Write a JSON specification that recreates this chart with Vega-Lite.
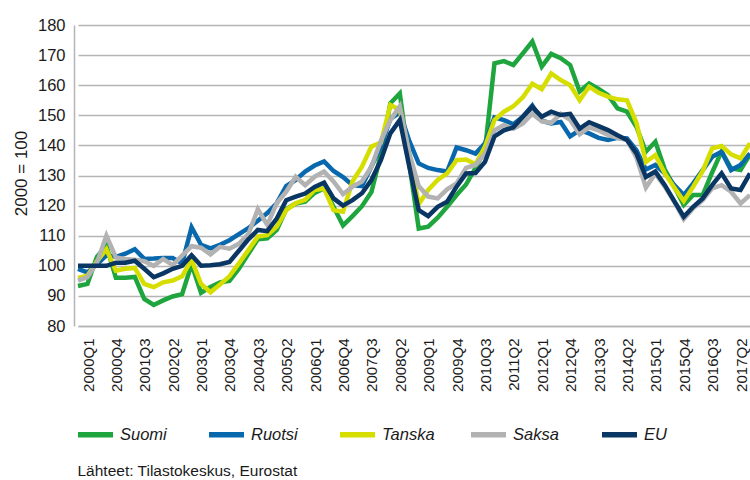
{
  "$schema": "https://vega.github.io/schema/vega-lite/v6.json",
  "width": 676,
  "height": 301,
  "autosize": {"type": "none"},
  "padding": {"left": 74, "top": 25, "right": 0, "bottom": 154},
  "config": {"view": {"stroke": null}, "font": "Liberation Sans, Arial, sans-serif"},
  "data": {"values": [
    {"q":"2000Q1","s":"Suomi","v":93.3},{"q":"2000Q2","s":"Suomi","v":94},{"q":"2000Q3","s":"Suomi","v":103},{"q":"2000Q4","s":"Suomi","v":106.7},
    {"q":"2001Q1","s":"Suomi","v":96},{"q":"2001Q2","s":"Suomi","v":96},{"q":"2001Q3","s":"Suomi","v":96.3},{"q":"2001Q4","s":"Suomi","v":89},
    {"q":"2002Q1","s":"Suomi","v":87},{"q":"2002Q2","s":"Suomi","v":88.5},{"q":"2002Q3","s":"Suomi","v":89.8},{"q":"2002Q4","s":"Suomi","v":90.6},
    {"q":"2003Q1","s":"Suomi","v":100.5},{"q":"2003Q2","s":"Suomi","v":91},{"q":"2003Q3","s":"Suomi","v":93},{"q":"2003Q4","s":"Suomi","v":94.5},
    {"q":"2004Q1","s":"Suomi","v":95},{"q":"2004Q2","s":"Suomi","v":99},{"q":"2004Q3","s":"Suomi","v":104},{"q":"2004Q4","s":"Suomi","v":108.8},
    {"q":"2005Q1","s":"Suomi","v":109.1},{"q":"2005Q2","s":"Suomi","v":111.9},{"q":"2005Q3","s":"Suomi","v":118.8},{"q":"2005Q4","s":"Suomi","v":120.7},
    {"q":"2006Q1","s":"Suomi","v":121.3},{"q":"2006Q2","s":"Suomi","v":124.2},{"q":"2006Q3","s":"Suomi","v":125.7},{"q":"2006Q4","s":"Suomi","v":119.6},
    {"q":"2007Q1","s":"Suomi","v":113.4},{"q":"2007Q2","s":"Suomi","v":116.5},{"q":"2007Q3","s":"Suomi","v":119.8},{"q":"2007Q4","s":"Suomi","v":124.5},
    {"q":"2008Q1","s":"Suomi","v":137},{"q":"2008Q2","s":"Suomi","v":154},{"q":"2008Q3","s":"Suomi","v":157.3},{"q":"2008Q4","s":"Suomi","v":134},
    {"q":"2009Q1","s":"Suomi","v":112.4},{"q":"2009Q2","s":"Suomi","v":113},{"q":"2009Q3","s":"Suomi","v":116},{"q":"2009Q4","s":"Suomi","v":119.6},
    {"q":"2010Q1","s":"Suomi","v":123.5},{"q":"2010Q2","s":"Suomi","v":127},{"q":"2010Q3","s":"Suomi","v":132.5},{"q":"2010Q4","s":"Suomi","v":138.5},
    {"q":"2011Q1","s":"Suomi","v":167.3},{"q":"2011Q2","s":"Suomi","v":168},{"q":"2011Q3","s":"Suomi","v":166.7},{"q":"2011Q4","s":"Suomi","v":170.6},
    {"q":"2012Q1","s":"Suomi","v":174.5},{"q":"2012Q2","s":"Suomi","v":166.2},{"q":"2012Q3","s":"Suomi","v":170.4},{"q":"2012Q4","s":"Suomi","v":169},
    {"q":"2013Q1","s":"Suomi","v":166.7},{"q":"2013Q2","s":"Suomi","v":157.9},{"q":"2013Q3","s":"Suomi","v":160.6},{"q":"2013Q4","s":"Suomi","v":158.8},
    {"q":"2014Q1","s":"Suomi","v":156.7},{"q":"2014Q2","s":"Suomi","v":152.3},{"q":"2014Q3","s":"Suomi","v":151.2},{"q":"2014Q4","s":"Suomi","v":146.2},
    {"q":"2015Q1","s":"Suomi","v":137.9},{"q":"2015Q2","s":"Suomi","v":141.2},{"q":"2015Q3","s":"Suomi","v":132},{"q":"2015Q4","s":"Suomi","v":126.3},
    {"q":"2016Q1","s":"Suomi","v":120.2},{"q":"2016Q2","s":"Suomi","v":123.5},{"q":"2016Q3","s":"Suomi","v":123.5},{"q":"2016Q4","s":"Suomi","v":131},
    {"q":"2017Q1","s":"Suomi","v":138},{"q":"2017Q2","s":"Suomi","v":132.4},{"q":"2017Q3","s":"Suomi","v":131.8},{"q":"2017Q4","s":"Suomi","v":137},

    {"q":"2000Q1","s":"Ruotsi","v":99},{"q":"2000Q2","s":"Ruotsi","v":97.8},{"q":"2000Q3","s":"Ruotsi","v":100.5},{"q":"2000Q4","s":"Ruotsi","v":103.5},
    {"q":"2001Q1","s":"Ruotsi","v":103},{"q":"2001Q2","s":"Ruotsi","v":104},{"q":"2001Q3","s":"Ruotsi","v":105.5},{"q":"2001Q4","s":"Ruotsi","v":102.3},
    {"q":"2002Q1","s":"Ruotsi","v":102.4},{"q":"2002Q2","s":"Ruotsi","v":102.6},{"q":"2002Q3","s":"Ruotsi","v":102.6},{"q":"2002Q4","s":"Ruotsi","v":100.8},
    {"q":"2003Q1","s":"Ruotsi","v":112.8},{"q":"2003Q2","s":"Ruotsi","v":107},{"q":"2003Q3","s":"Ruotsi","v":105.8},{"q":"2003Q4","s":"Ruotsi","v":107},
    {"q":"2004Q1","s":"Ruotsi","v":108.5},{"q":"2004Q2","s":"Ruotsi","v":110.5},{"q":"2004Q3","s":"Ruotsi","v":112.5},{"q":"2004Q4","s":"Ruotsi","v":115},
    {"q":"2005Q1","s":"Ruotsi","v":117.5},{"q":"2005Q2","s":"Ruotsi","v":120.8},{"q":"2005Q3","s":"Ruotsi","v":126.5},{"q":"2005Q4","s":"Ruotsi","v":128.5},
    {"q":"2006Q1","s":"Ruotsi","v":131.3},{"q":"2006Q2","s":"Ruotsi","v":133.3},{"q":"2006Q3","s":"Ruotsi","v":134.7},{"q":"2006Q4","s":"Ruotsi","v":131.5},
    {"q":"2007Q1","s":"Ruotsi","v":129.5},{"q":"2007Q2","s":"Ruotsi","v":126.8},{"q":"2007Q3","s":"Ruotsi","v":126.5},{"q":"2007Q4","s":"Ruotsi","v":133},
    {"q":"2008Q1","s":"Ruotsi","v":139.6},{"q":"2008Q2","s":"Ruotsi","v":148.8},{"q":"2008Q3","s":"Ruotsi","v":151},{"q":"2008Q4","s":"Ruotsi","v":141.5},
    {"q":"2009Q1","s":"Ruotsi","v":134},{"q":"2009Q2","s":"Ruotsi","v":132.5},{"q":"2009Q3","s":"Ruotsi","v":131.8},{"q":"2009Q4","s":"Ruotsi","v":131.3},
    {"q":"2010Q1","s":"Ruotsi","v":139.3},{"q":"2010Q2","s":"Ruotsi","v":138.4},{"q":"2010Q3","s":"Ruotsi","v":137.3},{"q":"2010Q4","s":"Ruotsi","v":140.7},
    {"q":"2011Q1","s":"Ruotsi","v":149.3},{"q":"2011Q2","s":"Ruotsi","v":148.4},{"q":"2011Q3","s":"Ruotsi","v":147},{"q":"2011Q4","s":"Ruotsi","v":149.5},
    {"q":"2012Q1","s":"Ruotsi","v":153.2},{"q":"2012Q2","s":"Ruotsi","v":148.2},{"q":"2012Q3","s":"Ruotsi","v":147.3},{"q":"2012Q4","s":"Ruotsi","v":147.8},
    {"q":"2013Q1","s":"Ruotsi","v":143},{"q":"2013Q2","s":"Ruotsi","v":145.1},{"q":"2013Q3","s":"Ruotsi","v":144},{"q":"2013Q4","s":"Ruotsi","v":142.5},
    {"q":"2014Q1","s":"Ruotsi","v":141.8},{"q":"2014Q2","s":"Ruotsi","v":142.5},{"q":"2014Q3","s":"Ruotsi","v":142.3},{"q":"2014Q4","s":"Ruotsi","v":138.4},
    {"q":"2015Q1","s":"Ruotsi","v":132},{"q":"2015Q2","s":"Ruotsi","v":133.5},{"q":"2015Q3","s":"Ruotsi","v":130.7},{"q":"2015Q4","s":"Ruotsi","v":126.8},
    {"q":"2016Q1","s":"Ruotsi","v":123.5},{"q":"2016Q2","s":"Ruotsi","v":127.4},{"q":"2016Q3","s":"Ruotsi","v":131.8},{"q":"2016Q4","s":"Ruotsi","v":136.2},
    {"q":"2017Q1","s":"Ruotsi","v":137.9},{"q":"2017Q2","s":"Ruotsi","v":131.8},{"q":"2017Q3","s":"Ruotsi","v":133.5},{"q":"2017Q4","s":"Ruotsi","v":137.3},

    {"q":"2000Q1","s":"Tanska","v":96},{"q":"2000Q2","s":"Tanska","v":96.7},{"q":"2000Q3","s":"Tanska","v":101.5},{"q":"2000Q4","s":"Tanska","v":105.5},
    {"q":"2001Q1","s":"Tanska","v":98.4},{"q":"2001Q2","s":"Tanska","v":99},{"q":"2001Q3","s":"Tanska","v":99.3},{"q":"2001Q4","s":"Tanska","v":94},
    {"q":"2002Q1","s":"Tanska","v":92.9},{"q":"2002Q2","s":"Tanska","v":94.5},{"q":"2002Q3","s":"Tanska","v":95.1},{"q":"2002Q4","s":"Tanska","v":96.5},
    {"q":"2003Q1","s":"Tanska","v":102},{"q":"2003Q2","s":"Tanska","v":94},{"q":"2003Q3","s":"Tanska","v":91.2},{"q":"2003Q4","s":"Tanska","v":93.8},
    {"q":"2004Q1","s":"Tanska","v":96.5},{"q":"2004Q2","s":"Tanska","v":100.8},{"q":"2004Q3","s":"Tanska","v":105.2},{"q":"2004Q4","s":"Tanska","v":109.7},
    {"q":"2005Q1","s":"Tanska","v":110.2},{"q":"2005Q2","s":"Tanska","v":113},{"q":"2005Q3","s":"Tanska","v":118.5},{"q":"2005Q4","s":"Tanska","v":120.8},
    {"q":"2006Q1","s":"Tanska","v":121.9},{"q":"2006Q2","s":"Tanska","v":125.2},{"q":"2006Q3","s":"Tanska","v":125.7},{"q":"2006Q4","s":"Tanska","v":118.5},
    {"q":"2007Q1","s":"Tanska","v":118},{"q":"2007Q2","s":"Tanska","v":128},{"q":"2007Q3","s":"Tanska","v":132.9},{"q":"2007Q4","s":"Tanska","v":139.6},
    {"q":"2008Q1","s":"Tanska","v":140.9},{"q":"2008Q2","s":"Tanska","v":153.4},{"q":"2008Q3","s":"Tanska","v":151.8},{"q":"2008Q4","s":"Tanska","v":137},
    {"q":"2009Q1","s":"Tanska","v":120.5},{"q":"2009Q2","s":"Tanska","v":125.2},{"q":"2009Q3","s":"Tanska","v":128.5},{"q":"2009Q4","s":"Tanska","v":130.7},
    {"q":"2010Q1","s":"Tanska","v":135.1},{"q":"2010Q2","s":"Tanska","v":135.3},{"q":"2010Q3","s":"Tanska","v":133.7},{"q":"2010Q4","s":"Tanska","v":139.6},
    {"q":"2011Q1","s":"Tanska","v":148.4},{"q":"2011Q2","s":"Tanska","v":151.2},{"q":"2011Q3","s":"Tanska","v":153},{"q":"2011Q4","s":"Tanska","v":156},
    {"q":"2012Q1","s":"Tanska","v":160.5},{"q":"2012Q2","s":"Tanska","v":158.7},{"q":"2012Q3","s":"Tanska","v":163.9},{"q":"2012Q4","s":"Tanska","v":161.7},
    {"q":"2013Q1","s":"Tanska","v":160},{"q":"2013Q2","s":"Tanska","v":155},{"q":"2013Q3","s":"Tanska","v":159.5},{"q":"2013Q4","s":"Tanska","v":157.5},
    {"q":"2014Q1","s":"Tanska","v":156.2},{"q":"2014Q2","s":"Tanska","v":155.3},{"q":"2014Q3","s":"Tanska","v":155},{"q":"2014Q4","s":"Tanska","v":147.5},
    {"q":"2015Q1","s":"Tanska","v":134.5},{"q":"2015Q2","s":"Tanska","v":136.8},{"q":"2015Q3","s":"Tanska","v":130.7},{"q":"2015Q4","s":"Tanska","v":126},
    {"q":"2016Q1","s":"Tanska","v":121.5},{"q":"2016Q2","s":"Tanska","v":126.3},{"q":"2016Q3","s":"Tanska","v":131.5},{"q":"2016Q4","s":"Tanska","v":139},
    {"q":"2017Q1","s":"Tanska","v":139.8},{"q":"2017Q2","s":"Tanska","v":137},{"q":"2017Q3","s":"Tanska","v":135.7},{"q":"2017Q4","s":"Tanska","v":140.7},

    {"q":"2000Q1","s":"Saksa","v":95.1},{"q":"2000Q2","s":"Saksa","v":96.2},{"q":"2000Q3","s":"Saksa","v":101},{"q":"2000Q4","s":"Saksa","v":110},
    {"q":"2001Q1","s":"Saksa","v":102.8},{"q":"2001Q2","s":"Saksa","v":102.3},{"q":"2001Q3","s":"Saksa","v":102},{"q":"2001Q4","s":"Saksa","v":101.5},
    {"q":"2002Q1","s":"Saksa","v":100},{"q":"2002Q2","s":"Saksa","v":102.3},{"q":"2002Q3","s":"Saksa","v":100.2},{"q":"2002Q4","s":"Saksa","v":103.4},
    {"q":"2003Q1","s":"Saksa","v":106.5},{"q":"2003Q2","s":"Saksa","v":106},{"q":"2003Q3","s":"Saksa","v":103.8},{"q":"2003Q4","s":"Saksa","v":106.3},
    {"q":"2004Q1","s":"Saksa","v":105.7},{"q":"2004Q2","s":"Saksa","v":107.3},{"q":"2004Q3","s":"Saksa","v":110.5},{"q":"2004Q4","s":"Saksa","v":118.8},
    {"q":"2005Q1","s":"Saksa","v":113.6},{"q":"2005Q2","s":"Saksa","v":120.8},{"q":"2005Q3","s":"Saksa","v":124.6},{"q":"2005Q4","s":"Saksa","v":129.6},
    {"q":"2006Q1","s":"Saksa","v":126.8},{"q":"2006Q2","s":"Saksa","v":129.6},{"q":"2006Q3","s":"Saksa","v":131.3},{"q":"2006Q4","s":"Saksa","v":128},
    {"q":"2007Q1","s":"Saksa","v":123.8},{"q":"2007Q2","s":"Saksa","v":126.3},{"q":"2007Q3","s":"Saksa","v":128},{"q":"2007Q4","s":"Saksa","v":132.9},
    {"q":"2008Q1","s":"Saksa","v":141.5},{"q":"2008Q2","s":"Saksa","v":148.4},{"q":"2008Q3","s":"Saksa","v":153},{"q":"2008Q4","s":"Saksa","v":137.4},
    {"q":"2009Q1","s":"Saksa","v":126.5},{"q":"2009Q2","s":"Saksa","v":123},{"q":"2009Q3","s":"Saksa","v":122.4},{"q":"2009Q4","s":"Saksa","v":125.4},
    {"q":"2010Q1","s":"Saksa","v":127.4},{"q":"2010Q2","s":"Saksa","v":132.5},{"q":"2010Q3","s":"Saksa","v":133.5},{"q":"2010Q4","s":"Saksa","v":137.3},
    {"q":"2011Q1","s":"Saksa","v":145},{"q":"2011Q2","s":"Saksa","v":146.8},{"q":"2011Q3","s":"Saksa","v":145.5},{"q":"2011Q4","s":"Saksa","v":147.3},
    {"q":"2012Q1","s":"Saksa","v":150.5},{"q":"2012Q2","s":"Saksa","v":148},{"q":"2012Q3","s":"Saksa","v":147.5},{"q":"2012Q4","s":"Saksa","v":150.5},
    {"q":"2013Q1","s":"Saksa","v":148.5},{"q":"2013Q2","s":"Saksa","v":143.7},{"q":"2013Q3","s":"Saksa","v":146},{"q":"2013Q4","s":"Saksa","v":145},
    {"q":"2014Q1","s":"Saksa","v":143.5},{"q":"2014Q2","s":"Saksa","v":142.5},{"q":"2014Q3","s":"Saksa","v":141.8},{"q":"2014Q4","s":"Saksa","v":136},
    {"q":"2015Q1","s":"Saksa","v":126},{"q":"2015Q2","s":"Saksa","v":130.7},{"q":"2015Q3","s":"Saksa","v":126.3},{"q":"2015Q4","s":"Saksa","v":121.3},
    {"q":"2016Q1","s":"Saksa","v":115.5},{"q":"2016Q2","s":"Saksa","v":119.1},{"q":"2016Q3","s":"Saksa","v":121.8},{"q":"2016Q4","s":"Saksa","v":125.7},
    {"q":"2017Q1","s":"Saksa","v":126.8},{"q":"2017Q2","s":"Saksa","v":124.6},{"q":"2017Q3","s":"Saksa","v":120.7},{"q":"2017Q4","s":"Saksa","v":123.5},

    {"q":"2000Q1","s":"EU","v":100},{"q":"2000Q2","s":"EU","v":100},{"q":"2000Q3","s":"EU","v":100},{"q":"2000Q4","s":"EU","v":100},
    {"q":"2001Q1","s":"EU","v":101},{"q":"2001Q2","s":"EU","v":101},{"q":"2001Q3","s":"EU","v":101.7},{"q":"2001Q4","s":"EU","v":99},
    {"q":"2002Q1","s":"EU","v":96.2},{"q":"2002Q2","s":"EU","v":97.5},{"q":"2002Q3","s":"EU","v":99},{"q":"2002Q4","s":"EU","v":100},
    {"q":"2003Q1","s":"EU","v":103.5},{"q":"2003Q2","s":"EU","v":100},{"q":"2003Q3","s":"EU","v":100.2},{"q":"2003Q4","s":"EU","v":100.5},
    {"q":"2004Q1","s":"EU","v":101.3},{"q":"2004Q2","s":"EU","v":105},{"q":"2004Q3","s":"EU","v":108.8},{"q":"2004Q4","s":"EU","v":111.9},
    {"q":"2005Q1","s":"EU","v":111.5},{"q":"2005Q2","s":"EU","v":115.7},{"q":"2005Q3","s":"EU","v":121.8},{"q":"2005Q4","s":"EU","v":123},
    {"q":"2006Q1","s":"EU","v":124},{"q":"2006Q2","s":"EU","v":126.2},{"q":"2006Q3","s":"EU","v":127.6},{"q":"2006Q4","s":"EU","v":122.4},
    {"q":"2007Q1","s":"EU","v":120},{"q":"2007Q2","s":"EU","v":121.8},{"q":"2007Q3","s":"EU","v":124.1},{"q":"2007Q4","s":"EU","v":128.5},
    {"q":"2008Q1","s":"EU","v":135.1},{"q":"2008Q2","s":"EU","v":144},{"q":"2008Q3","s":"EU","v":148.4},{"q":"2008Q4","s":"EU","v":133},
    {"q":"2009Q1","s":"EU","v":118.5},{"q":"2009Q2","s":"EU","v":116.5},{"q":"2009Q3","s":"EU","v":119.6},{"q":"2009Q4","s":"EU","v":121.3},
    {"q":"2010Q1","s":"EU","v":126.3},{"q":"2010Q2","s":"EU","v":130.7},{"q":"2010Q3","s":"EU","v":130.8},{"q":"2010Q4","s":"EU","v":134.5},
    {"q":"2011Q1","s":"EU","v":143},{"q":"2011Q2","s":"EU","v":145},{"q":"2011Q3","s":"EU","v":146},{"q":"2011Q4","s":"EU","v":149.5},
    {"q":"2012Q1","s":"EU","v":152.8},{"q":"2012Q2","s":"EU","v":149.5},{"q":"2012Q3","s":"EU","v":151.2},{"q":"2012Q4","s":"EU","v":150.1},
    {"q":"2013Q1","s":"EU","v":150.5},{"q":"2013Q2","s":"EU","v":145.6},{"q":"2013Q3","s":"EU","v":147.7},{"q":"2013Q4","s":"EU","v":146.4},
    {"q":"2014Q1","s":"EU","v":145.1},{"q":"2014Q2","s":"EU","v":143.4},{"q":"2014Q3","s":"EU","v":141.8},{"q":"2014Q4","s":"EU","v":137.3},
    {"q":"2015Q1","s":"EU","v":129.5},{"q":"2015Q2","s":"EU","v":131.3},{"q":"2015Q3","s":"EU","v":126.8},{"q":"2015Q4","s":"EU","v":121.5},
    {"q":"2016Q1","s":"EU","v":116.3},{"q":"2016Q2","s":"EU","v":119.6},{"q":"2016Q3","s":"EU","v":122.4},{"q":"2016Q4","s":"EU","v":126.8},
    {"q":"2017Q1","s":"EU","v":130.7},{"q":"2017Q2","s":"EU","v":125.7},{"q":"2017Q3","s":"EU","v":125.2},{"q":"2017Q4","s":"EU","v":130.7}
  ]},
  "mark": {"type": "line", "strokeWidth": 4.5},
  "encoding": {
    "x": {
      "field": "q", "type": "ordinal", "sort": null,
      "scale": {"type": "point", "range": [4, 676], "padding": 0},
      "axis": {
        "values": ["2000Q1","2000Q4","2001Q3","2002Q2","2003Q1","2003Q4","2004Q3","2005Q2","2006Q1","2006Q4","2007Q3","2008Q2","2009Q1","2009Q4","2010Q3","2011Q2","2012Q1","2012Q4","2013Q3","2014Q2","2015Q1","2015Q4","2016Q3","2017Q2"],
        "labelAngle": -90, "labelAlign": "right", "labelBaseline": "middle",
        "labelOffset": 10, "labelPadding": 12, "labelFontSize": 15, "labelColor": "#1a1a1a",
        "ticks": false, "grid": false, "domain": true, "domainColor": "#b5b5b5", "domainWidth": 1.5,
        "title": "Lähteet: Tilastokeskus, Eurostat", "titleFontSize": 15.5, "titleFontWeight": "normal", "titleColor": "#1a1a1a",
        "titleX": 3, "titleY": 144, "titleAlign": "left", "titleBaseline": "middle", "titleAngle": 0
      }
    },
    "y": {
      "field": "v", "type": "quantitative",
      "scale": {"domain": [80, 180], "nice": false, "zero": false},
      "axis": {
        "values": [80, 90, 100, 110, 120, 130, 140, 150, 160, 170, 180],
        "grid": true, "gridColor": "#b5b5b5", "gridWidth": 1.5,
        "domain": true, "domainColor": "#b5b5b5", "domainWidth": 1.5, "ticks": false,
        "labelFontSize": 16.5, "labelPadding": 9, "labelColor": "#1a1a1a",
        "title": "2000 = 100", "titleFontSize": 17, "titleFontWeight": "normal", "titleColor": "#1a1a1a",
        "titleX": -53, "titleY": 148, "titleAngle": -90, "titleAlign": "center", "titleBaseline": "middle"
      }
    },
    "color": {
      "field": "s", "type": "nominal",
      "sort": ["Suomi", "Ruotsi", "Tanska", "Saksa", "EU"],
      "scale": {"domain": ["Suomi", "Ruotsi", "Tanska", "Saksa", "EU"], "range": ["#1ea53e", "#0868ad", "#d6de00", "#b2b2b2", "#0a3663"]},
      "legend": {
        "orient": "none", "legendX": 1, "legendY": 389, "direction": "horizontal", "title": null,
        "symbolType": "stroke", "symbolSize": 1225, "symbolStrokeWidth": 5.5,
        "labelFontSize": 16.5, "labelFontStyle": "italic", "labelOffset": 4, "labelColor": "#1a1a1a",
        "columnPadding": 25, "gridAlign": "all"
      }
    }
  }
}
